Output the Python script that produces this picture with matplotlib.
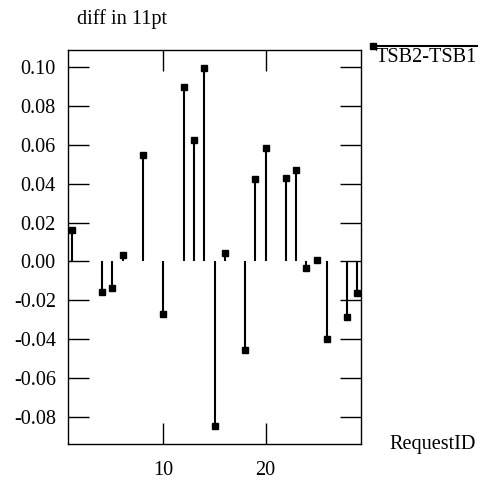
import matplotlib
matplotlib.use("Agg")
import matplotlib.pyplot as plt
from matplotlib.lines import Line2D

plt.rcParams['font.family'] = ['Liberation Serif', 'DejaVu Serif']
plt.rcParams['axes.unicode_minus'] = False

# data
request_id = [1, 4, 5, 6, 8, 10, 12, 13, 14, 15, 16, 18, 19, 20, 22, 23, 24, 25, 26, 28, 29]
diff = [0.0161, -0.0160, -0.0139, 0.0032, 0.0546, -0.0273, 0.0897, 0.0623, 0.0995, -0.0848,
        0.0041, -0.0458, 0.0422, 0.0582, 0.0427, 0.0470, -0.0035, 0.0005, -0.0401, -0.0288, -0.0165]
series_name = "TSB2-TSB1"
y_ticks = [-0.08, -0.06, -0.04, -0.02, 0.0, 0.02, 0.04, 0.06, 0.08, 0.10]
x_ticks = [10, 20]

W, H = 488, 480
FS = 14.6
fig = plt.figure(figsize=(W / 100, H / 100), dpi=100)
ax = fig.add_axes([68.3 / W, 36 / H, 292.4 / W, 394 / H])

ax.vlines(request_id, 0, diff, colors='black', linewidth=1.5)
ax.plot(request_id, diff, 's', color='black', markersize=4.5, clip_on=False)

ax.set_xlim(0.67, 29.33)
ax.set_ylim(-0.094, 0.1088)
ax.set_xticks(x_ticks)
ax.set_yticks(y_ticks)
ax.set_yticklabels([f"{v:.2f}" for v in y_ticks])
ax.tick_params(direction='in', length=15, width=1, labelsize=FS,
               top=True, right=True)
ax.tick_params(axis='x', pad=12.5)
ax.tick_params(axis='y', pad=9)
for s in ax.spines.values():
    s.set_linewidth(1)

# title and axis label placed like the gnuplot output
fig.text(77 / W, 1 - 19.5 / H, "diff in 11pt", fontsize=FS, va='center', ha='left')
fig.text(433 / W, 1 - 445 / H, "RequestID", fontsize=FS, va='center', ha='center')

# key in the top right, outside the axes
fig.add_artist(Line2D([373.3 / W, 476.5 / W], [1 - 45.7 / H, 1 - 45.7 / H],
                      color='black', linewidth=1.5, transform=fig.transFigure))
fig.add_artist(Line2D([373.3 / W], [1 - 45.7 / H], marker='s', markersize=4.5,
                      color='black', transform=fig.transFigure))
fig.text(376 / W, 1 - 57.5 / H, series_name, fontsize=FS, va='center', ha='left')

fig.savefig("out.png", dpi=100)
